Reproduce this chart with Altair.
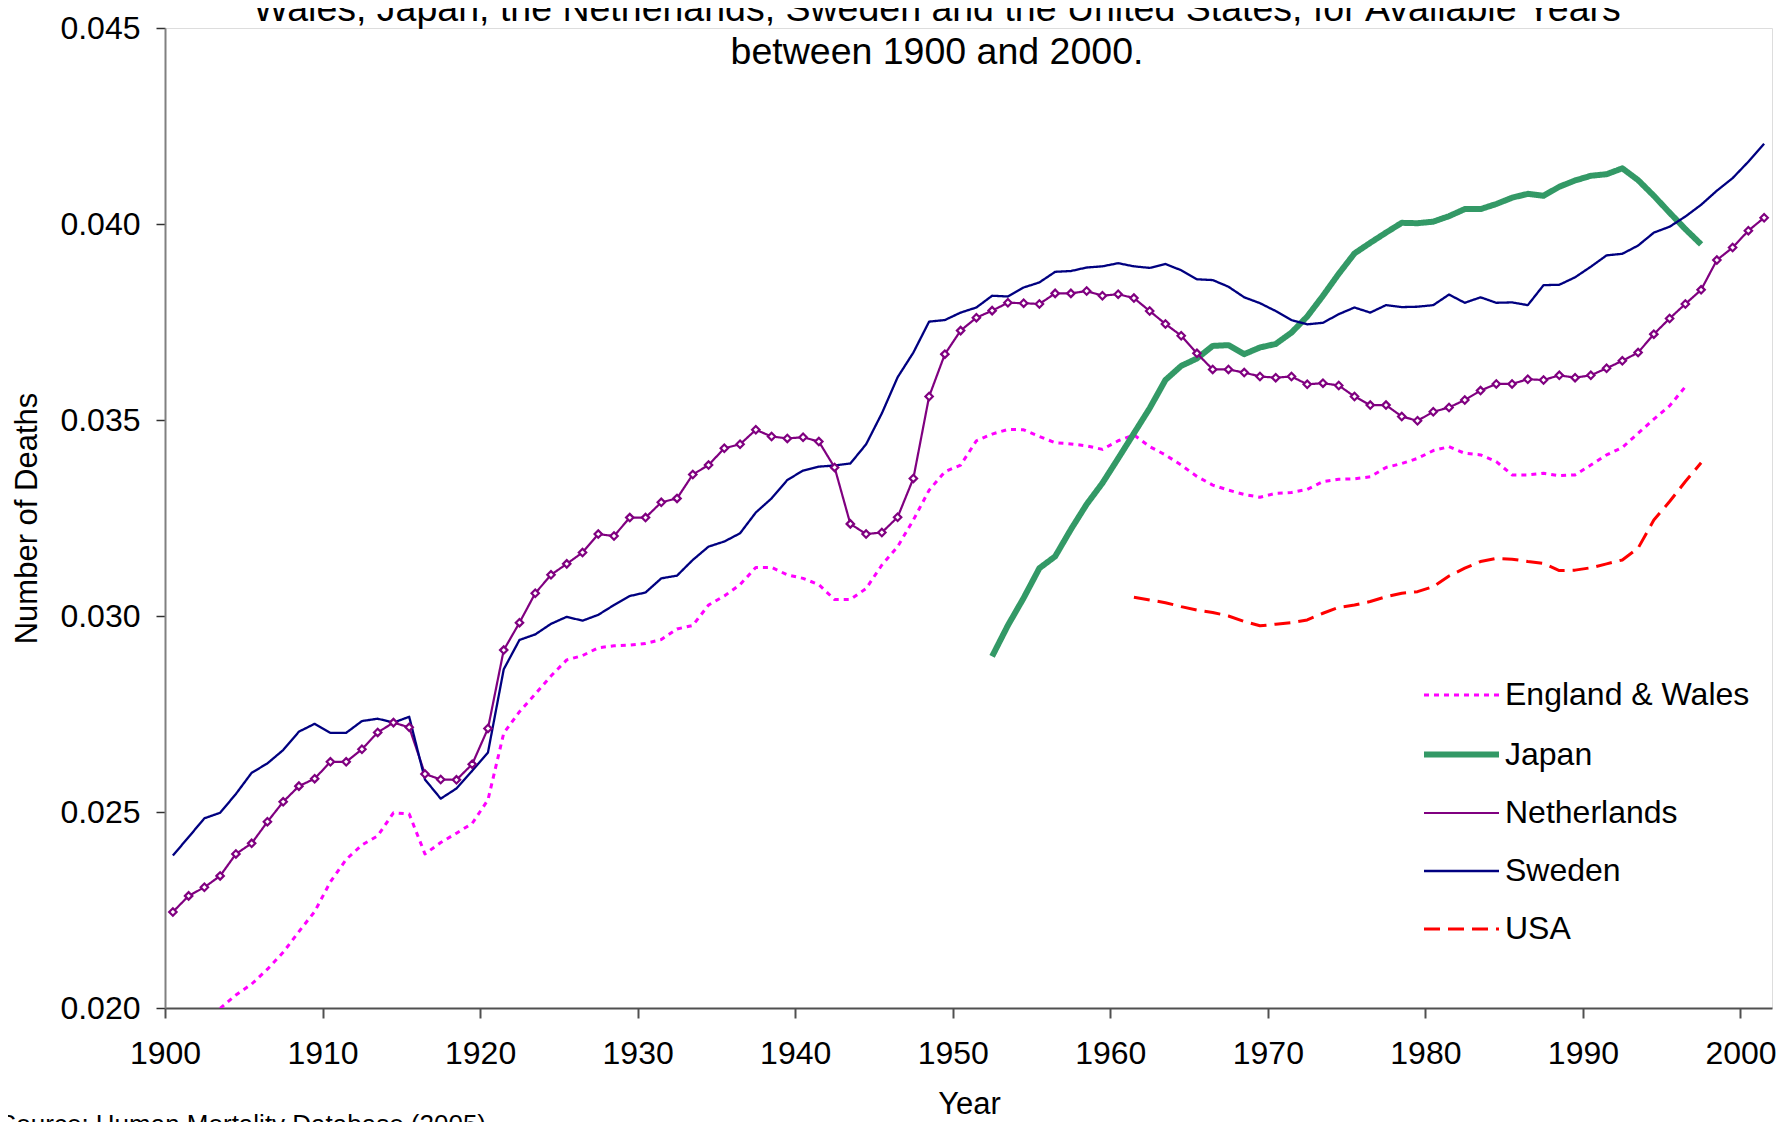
import altair as alt
import pandas as pd

series_names = ["England & Wales", "Japan", "Netherlands", "Sweden", "USA"]
series_colors = ["#FF00FF", "#339966", "#800080", "#000080", "#FF0000"]
series_dashes = [[5, 5], [1, 0], [1, 0], [1, 0], [16, 8]]
series_widths = [3, 6, 2.2, 2.3, 3]

title_lines = [
    "Wales, Japan, the Netherlands, Sweden and the United States, for Available Years",
    "between 1900 and 2000.",
]
source_text = ["Source: Human Mortality Database (2005)"]

x_ticks = [1900, 1910, 1920, 1930, 1940, 1950, 1960, 1970, 1980, 1990, 2000]
y_ticks = [0.020, 0.025, 0.030, 0.035, 0.040, 0.045]

ew_start = 1903
ew_values = [
    0.01999, 0.02033, 0.02061, 0.02099, 0.02142, 0.02195, 0.02246,          # 1903-1909
    0.02322, 0.02379, 0.02416, 0.02439, 0.02498, 0.02495, 0.02393, 0.02422, 0.02446, 0.02471,  # 1910-1919
    0.02531, 0.02701, 0.02756, 0.02801, 0.02847, 0.02888, 0.02899, 0.02919, 0.02924, 0.02926,  # 1920-1929
    0.02930, 0.02940, 0.02967, 0.02976, 0.03028, 0.03051, 0.03080, 0.03124, 0.03124, 0.03105,  # 1930-1939
    0.03096, 0.03080, 0.03042, 0.03042, 0.03070, 0.03130, 0.03177, 0.03245, 0.03321, 0.03368,  # 1940-1949
    0.03385, 0.03447, 0.03464, 0.03476, 0.03475, 0.03458, 0.03442, 0.03439, 0.03434, 0.03425,  # 1950-1959
    0.03447, 0.03462, 0.03432, 0.03411, 0.03385, 0.03356, 0.03334, 0.03321, 0.03310, 0.03303,  # 1960-1969
    0.03313, 0.03315, 0.03323, 0.03343, 0.03349, 0.03350, 0.03355, 0.03379, 0.03389, 0.03402,  # 1970-1979
    0.03422, 0.03432, 0.03415, 0.03411, 0.03394, 0.03360, 0.03360, 0.03364, 0.03358, 0.03360,  # 1980-1989
    0.03385, 0.03411, 0.03430, 0.03466, 0.03502, 0.03536, 0.03585,                             # 1990-1996
]

japan_start = 1952
japan_values = [
    0.02897, 0.02976, 0.03046, 0.03122, 0.03152, 0.03221, 0.03285, 0.03339,  # 1952-1959
    0.03402, 0.03466, 0.03530, 0.03602, 0.03638, 0.03657, 0.03689, 0.03691, 0.03668, 0.03685,  # 1960-1969
    0.03694, 0.03723, 0.03764, 0.03817, 0.03873, 0.03925, 0.03952, 0.03978, 0.04003, 0.04002,  # 1970-1979
    0.04006, 0.04020, 0.04038, 0.04038, 0.04051, 0.04067, 0.04077, 0.04072, 0.04095, 0.04111,  # 1980-1989
    0.04123, 0.04127, 0.04142, 0.04112, 0.04072, 0.04029, 0.03987, 0.03948,                    # 1990-1997
]

nl_start = 1900
nl_values = [
    0.02245, 0.02286, 0.02308, 0.02337, 0.02393, 0.02420, 0.02475, 0.02526, 0.02566, 0.02585,  # 1900-1909
    0.02628, 0.02628, 0.02660, 0.02703, 0.02728, 0.02716, 0.02597, 0.02583, 0.02582, 0.02622,  # 1910-1919
    0.02713, 0.02913, 0.02983, 0.03058, 0.03105, 0.03133, 0.03162, 0.03209, 0.03204, 0.03251,  # 1920-1929
    0.03251, 0.03290, 0.03300, 0.03361, 0.03385, 0.03428, 0.03438, 0.03475, 0.03458, 0.03453,  # 1930-1939
    0.03456, 0.03445, 0.03379, 0.03235, 0.03209, 0.03213, 0.03252, 0.03351, 0.03560, 0.03668,  # 1940-1949
    0.03728, 0.03761, 0.03779, 0.03799, 0.03798, 0.03796, 0.03823, 0.03823, 0.03829, 0.03817,  # 1950-1959
    0.03821, 0.03811, 0.03778, 0.03745, 0.03715, 0.03670, 0.03629, 0.03629, 0.03621, 0.03611,  # 1960-1969
    0.03608, 0.03611, 0.03591, 0.03594, 0.03588, 0.03560, 0.03538, 0.03538, 0.03509, 0.03498,  # 1970-1979
    0.03521, 0.03532, 0.03551, 0.03575, 0.03592, 0.03592, 0.03604, 0.03602, 0.03614, 0.03608,  # 1980-1989
    0.03614, 0.03632, 0.03651, 0.03672, 0.03719, 0.03759, 0.03796, 0.03832, 0.03908, 0.03940,  # 1990-1999
    0.03983, 0.04016,                                                                          # 2000-2001
]

sweden_start = 1900
sweden_values = [
    0.02389, 0.02436, 0.02484, 0.02498, 0.02546, 0.02600, 0.02624, 0.02658, 0.02705, 0.02725,  # 1900-1909
    0.02702, 0.02702, 0.02732, 0.02738, 0.02728, 0.02743, 0.02583, 0.02534, 0.02560, 0.02605,  # 1910-1919
    0.02652, 0.02864, 0.02939, 0.02953, 0.02980, 0.02998, 0.02988, 0.03003, 0.03028, 0.03051,  # 1920-1929
    0.03060, 0.03096, 0.03103, 0.03143, 0.03177, 0.03190, 0.03211, 0.03264, 0.03300, 0.03347,  # 1930-1939
    0.03371, 0.03381, 0.03384, 0.03389, 0.03438, 0.03517, 0.03609, 0.03672, 0.03751, 0.03755,  # 1940-1949
    0.03774, 0.03787, 0.03817, 0.03815, 0.03838, 0.03851, 0.03878, 0.03880, 0.03889, 0.03892,  # 1950-1959
    0.03900, 0.03892, 0.03888, 0.03898, 0.03882, 0.03859, 0.03857, 0.03840, 0.03813, 0.03798,  # 1960-1969
    0.03778, 0.03755, 0.03744, 0.03748, 0.03770, 0.03787, 0.03774, 0.03793, 0.03788, 0.03789,  # 1970-1979
    0.03793, 0.03820, 0.03799, 0.03813, 0.03799, 0.03800, 0.03793, 0.03844, 0.03845, 0.03864,  # 1980-1989
    0.03891, 0.03920, 0.03924, 0.03945, 0.03978, 0.03993, 0.04019, 0.04049, 0.04085, 0.04117,  # 1990-1999
    0.04159, 0.04205,                                                                          # 2000-2001
]

usa_start = 1961
usa_values = [
    0.03048, 0.03041, 0.03034, 0.03024, 0.03015, 0.03009, 0.03000, 0.02986, 0.02975,  # 1961-1969
    0.02979, 0.02983, 0.02990, 0.03007, 0.03022, 0.03028, 0.03037, 0.03049, 0.03058, 0.03062,  # 1970-1979
    0.03075, 0.03102, 0.03122, 0.03139, 0.03147, 0.03145, 0.03139, 0.03134, 0.03116, 0.03117,  # 1980-1989
    0.03123, 0.03133, 0.03143, 0.03173, 0.03245, 0.03292, 0.03343, 0.03391,                    # 1990-1997
]

rows = []
for name, start, vals in [
    ("England & Wales", ew_start, ew_values),
    ("Japan", japan_start, japan_values),
    ("Netherlands", nl_start, nl_values),
    ("Sweden", sweden_start, sweden_values),
    ("USA", usa_start, usa_values),
]:
    for i, v in enumerate(vals):
        rows.append({"series": name, "year": start + i, "value": v})
df = pd.DataFrame(rows)

FONT = "Liberation Sans"

legend = alt.Legend(
    orient="none", legendX=1256, legendY=628, title=None,
    symbolType="stroke", symbolSize=5625, labelFontSize=32, labelFont=FONT,
    labelColor="#000000", labelLimit=500, rowPadding=3, labelOffset=3,
)

x_scale = alt.Scale(domain=[1900, 2002], nice=False, zero=False)
y_scale = alt.Scale(domain=[0.020, 0.045], nice=False, zero=False)

x_axis = alt.Axis(
    values=x_ticks, format="d", title="Year", grid=False, tickSize=10,
    labelFontSize=32, labelPadding=20, labelFont=FONT, labelColor="#000000",
    labelFlush=False, labelOverlap=False,
    titleFontSize=31, titleFont=FONT, titleFontWeight="normal", titleColor="#000000",
    titleX=804, titleY=96, titleBaseline="middle", titleAlign="center",
    domainColor="#505050", domainWidth=2, tickColor="#505050", tickWidth=2,
)
y_axis = alt.Axis(
    values=y_ticks, format=".3f", title="Number of Deaths", grid=False, tickSize=9,
    labelFontSize=32, labelPadding=16, labelFont=FONT, labelColor="#000000",
    labelFlush=False, labelOverlap=False,
    titleFontSize=31, titleFont=FONT, titleFontWeight="normal", titleColor="#000000",
    titleX=-138, titleY=490, titleAngle=270, titleBaseline="middle", titleAlign="center",
    domainColor="#808080", domainWidth=2, tickColor="#303030", tickWidth=1.5,
)

base = alt.Chart(df).transform_calculate(x="datum.year + 0.5")

lines = base.mark_line(strokeJoin="round", clip=True).encode(
    x=alt.X("x:Q", scale=x_scale, axis=x_axis),
    y=alt.Y("value:Q", scale=y_scale, axis=y_axis),
    color=alt.Color("series:N", scale=alt.Scale(domain=series_names, range=series_colors), legend=legend),
    strokeDash=alt.StrokeDash("series:N", scale=alt.Scale(domain=series_names, range=series_dashes), legend=legend),
    strokeWidth=alt.StrokeWidth("series:N", scale=alt.Scale(type="ordinal", domain=series_names, range=series_widths), legend=legend),
    detail="series:N",
)

points = base.transform_filter(alt.datum.series == "Netherlands").mark_point(
    shape="diamond", filled=True, fill="#ffffff", stroke="#800080",
    strokeWidth=2.2, size=55, opacity=1, clip=True,
).encode(
    x=alt.X("x:Q", scale=x_scale),
    y=alt.Y("value:Q", scale=y_scale),
)

t1 = alt.Chart(pd.DataFrame({"t": [title_lines[0]]})).mark_text(
    font=FONT, fontSize=37.5, align="center", baseline="middle", color="#000000"
).encode(text="t:N", x=alt.value(772), y=alt.value(-18))

t2 = alt.Chart(pd.DataFrame({"t": [title_lines[1]]})).mark_text(
    font=FONT, fontSize=37.5, align="center", baseline="middle", color="#000000"
).encode(text="t:N", x=alt.value(772), y=alt.value(25))

src = alt.Chart(pd.DataFrame({"t": source_text})).mark_text(
    font=FONT, fontSize=26, align="left", baseline="top", color="#000000"
).encode(text="t:N", x=alt.value(-166), y=alt.value(1084))

chart = alt.layer(lines, points, t1, t2, src).properties(
    width=1607, height=980,
    autosize=alt.AutoSizeParams(type="none"),
    padding={"left": 157, "top": 20, "right": 10, "bottom": 114},
).configure_view(stroke=None).configure(font=FONT)

chart.save("out.html", embed_options={"renderer": "svg", "actions": False})
